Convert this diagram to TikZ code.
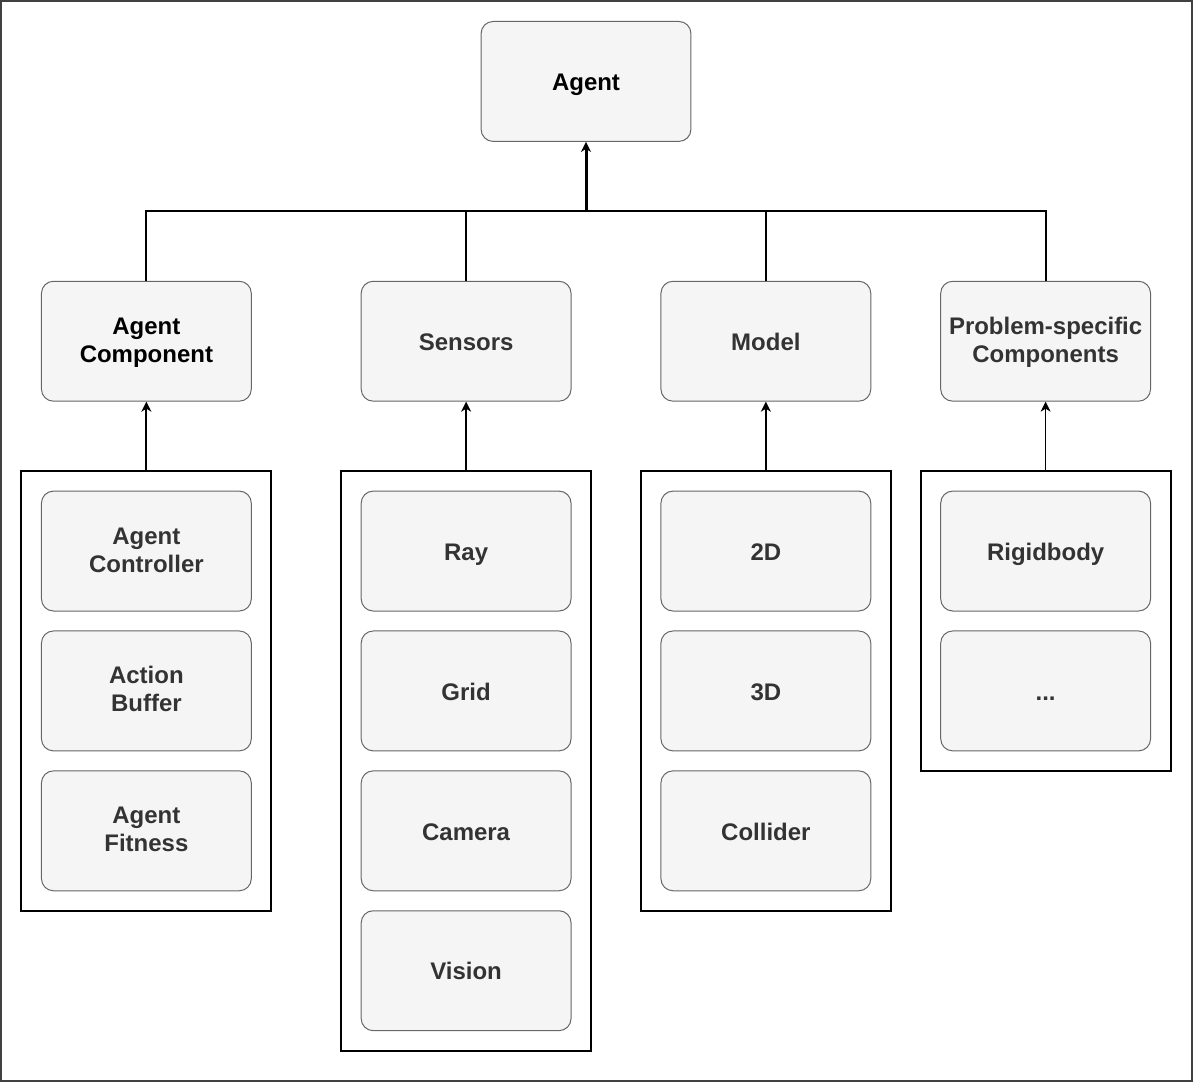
\documentclass[tikz,border=0pt]{standalone}
\usepackage{fontspec}
\setmainfont{Liberation Sans}
\usetikzlibrary{arrows.meta}
\definecolor{boxfill}{HTML}{F5F5F5}
\definecolor{boxline}{HTML}{666666}
\definecolor{boxtext}{HTML}{333333}
\newcommand{\linestrut}{\rule[-2.2pt]{0pt}{13.7pt}}
\newcommand{\topstrut}{\rule{0pt}{9.5pt}}
\newcommand{\botstrut}{\rule[-2.5pt]{0pt}{0pt}}

\begin{document}
\begin{tikzpicture}[x=0.5pt, y=-0.5pt,
	item/.style={draw=boxline, fill=boxfill, rounded corners=6pt, line width=0.5pt,
		minimum width=105pt, minimum height=60pt, align=center, text=boxtext,
		font=\fontsize{12}{14}\selectfont\bfseries},
	one/.style={item, execute at begin node=\linestrut},
	group/.style={draw=black, line width=1pt, minimum width=125pt, inner sep=0pt},
	up/.style={-{Stealth[length=5pt, width=5pt, inset=1.5pt]}, line width=1pt}]
	%\draw[help lines] (0,0) grid (1193,1082);
	\draw[draw=black!75, line width=1pt] (0.5,0.5) rectangle (1192.5,1081.5);
	\node[one, text=black] (agent) at (586,81) {Agent};
	\coordinate (bus) at (586,211);
	% second row
	\node[item, text=black] (comp) at (146,341) {\topstrut Agent\\Component\botstrut};
	\node[one] (sens) at (466,341) {Sensors};
	\node[one] (model) at (766,341) {Model};
	\node[item] (prob) at (1046,341) {\topstrut Problem-specific\\Components\botstrut};
	% groups
	\node[group, minimum height=220pt] (gcomp) at (146,691) {};
	\node[group, minimum height=290pt] (gsens) at (466,761) {};
	\node[group, minimum height=220pt] (gmodel) at (766,691) {};
	\node[group, minimum height=150pt] (gprob) at (1046,621) {};
	\foreach \t [count=\i] in {{Agent\\Controller}, {Action\\Buffer}, {Agent\\Fitness}}{
		\node[item] (comp\i) at (146, 411+140*\i) {\topstrut\t\botstrut};
	}
	\foreach \t [count=\i] in {Ray, Grid, Camera, Vision}{
		\node[one] (sens\i) at (466, 411+140*\i) {\t};
	}
	\foreach \t [count=\i] in {2D, 3D, Collider}{
		\node[one] (model\i) at (766, 411+140*\i) {\t};
	}
	\node[one] (prob1) at (1046,551) {Rigidbody};
	\node[one] (prob2) at (1046,691) {...};
	% connectors
	\draw[line width=1pt] (comp.north) |- (prob.north |- bus) -- (prob.north);
	\draw[line width=1pt] (sens.north) -- (sens.north |- bus);
	\draw[line width=1pt] (model.north) -- (model.north |- bus);
	\draw[up, line width=1.5pt] (bus) -- (agent.south);
	\draw[up] (gcomp.north) -- (comp.south);
	\draw[up] (gsens.north) -- (sens.south);
	\draw[up] (gmodel.north) -- (model.south);
	\draw[up, line width=0.5pt] (gprob.north) -- (prob.south);
\end{tikzpicture}
\end{document}
